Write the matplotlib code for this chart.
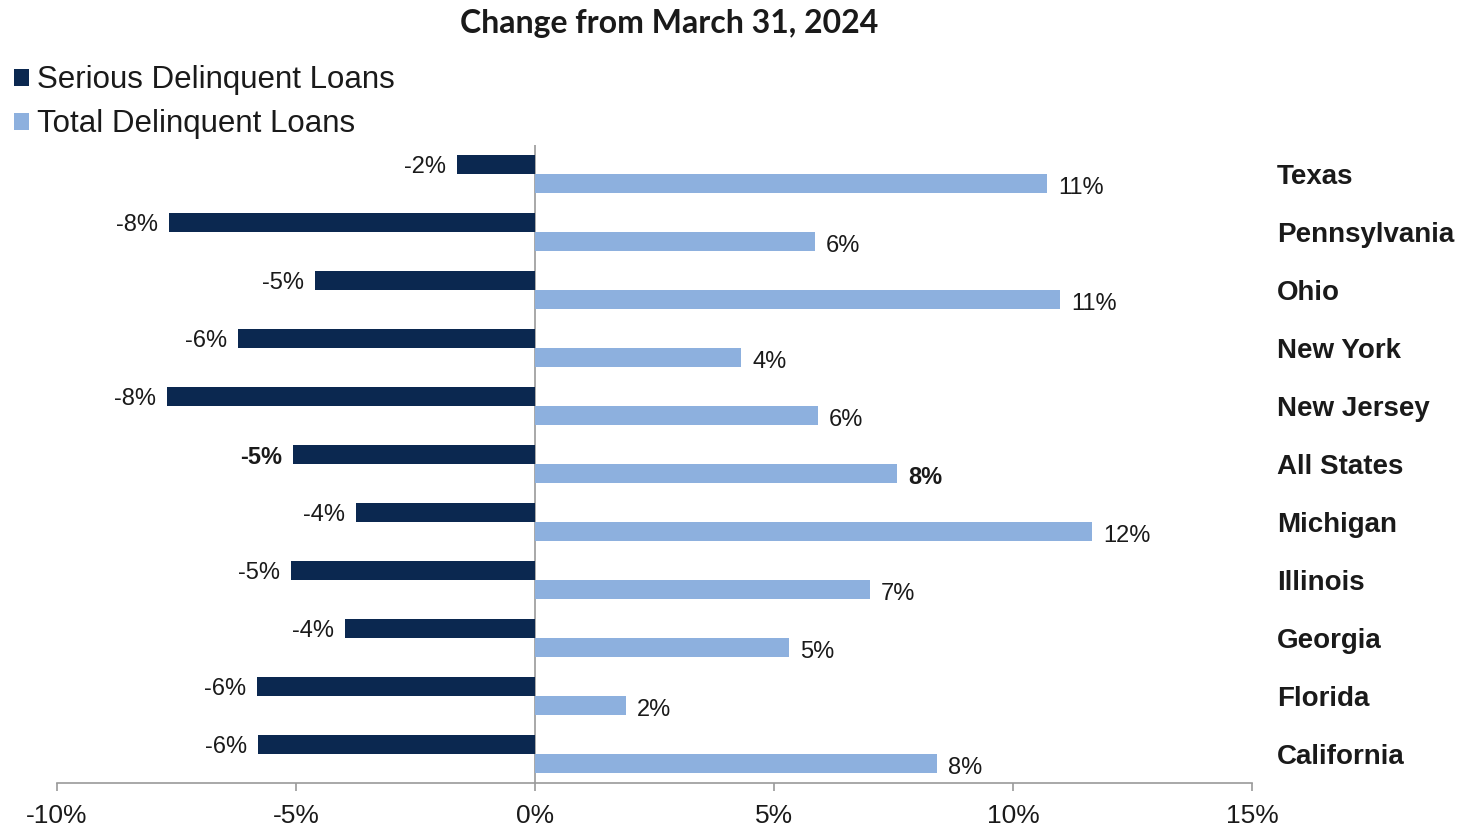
import matplotlib
matplotlib.use("Agg")
import matplotlib.pyplot as plt
import numpy as np

# Change in delinquent loans from March 31, 2024, by state (percent)
states = ["Texas", "Pennsylvania", "Ohio", "New York", "New Jersey", "All States",
          "Michigan", "Illinois", "Georgia", "Florida", "California"]
serious = [-1.63, -7.66, -4.60, -6.21, -7.70, -5.06, -3.74, -5.10, -3.97, -5.82, -5.79]
total = [10.71, 5.86, 10.98, 4.31, 5.92, 7.57, 11.65, 7.01, 5.31, 1.90, 8.41]
xticks = [-10, -5, 0, 5, 10, 15]
highlight = "All States"

NAVY = "#0B2850"
LIGHT = "#8DB0DE"
TEXT = "#1a1a1a"
GRID = "#9a9a9a"
FONT = ["Liberation Sans", "DejaVu Sans"]

plt.rcParams["font.family"] = FONT

fig = plt.figure(figsize=(14.59, 8.27), dpi=100)
ax = fig.add_axes([0.0391, 0.0532, 0.8190, 0.7715])

pos = np.arange(len(states))
h = 0.33
b1 = ax.barh(pos - h / 2, serious, height=h, color=NAVY, label="Serious Delinquent Loans")
b2 = ax.barh(pos + h / 2, total, height=h, color=LIGHT, label="Total Delinquent Loans")

ax.set_xlim(-10, 15)
ax.set_ylim(len(states) - 0.5, -0.5)

# value labels
for i, (s, t, name) in enumerate(zip(serious, total, states)):
    w = "bold" if name == highlight else "normal"
    ax.annotate(f"{s:.0f}%", xy=(s, pos[i] - h / 2), xytext=(-8, -2),
                textcoords="offset points", ha="right", va="center",
                fontsize=17, color=TEXT, fontweight=w)
    ax.annotate(f"{t:.0f}%", xy=(t, pos[i] + h / 2), xytext=(8, -3),
                textcoords="offset points", ha="left", va="center",
                fontsize=17, color=TEXT, fontweight=w)

# axes styling
for side in ("top", "right", "left"):
    ax.spines[side].set_visible(False)
ax.spines["bottom"].set_color(GRID)
ax.spines["bottom"].set_linewidth(1.2)
ax.axvline(0, color=GRID, linewidth=1.2, zorder=0)

ax.set_xticks(xticks)
ax.set_xticklabels([f"{v}%" for v in xticks], fontsize=19, color=TEXT)
ax.tick_params(axis="x", direction="out", length=6, width=1.2, color=GRID, pad=9)

ax.set_yticks(pos)
ax.set_yticklabels(states, fontsize=20, fontweight="bold", color=TEXT)
ax.yaxis.tick_right()
ax.tick_params(axis="y", length=0, pad=18)

fig.text(0.4585, 0.971, "Change from March 31, 2024", ha="center", va="center",
         fontsize=23, fontweight="bold", family=["Lato", "DejaVu Sans"], color=TEXT)

leg = fig.legend(handles=[b1, b2], loc="upper left", bbox_to_anchor=(0.0096, 0.921),
                 frameon=False, fontsize=22.5, handlelength=0.48, handleheight=0.48,
                 handletextpad=0.25, labelspacing=0.45, borderaxespad=0, borderpad=0)
for t in leg.get_texts():
    t.set_color(TEXT)

fig.savefig("out.png", dpi=100)
